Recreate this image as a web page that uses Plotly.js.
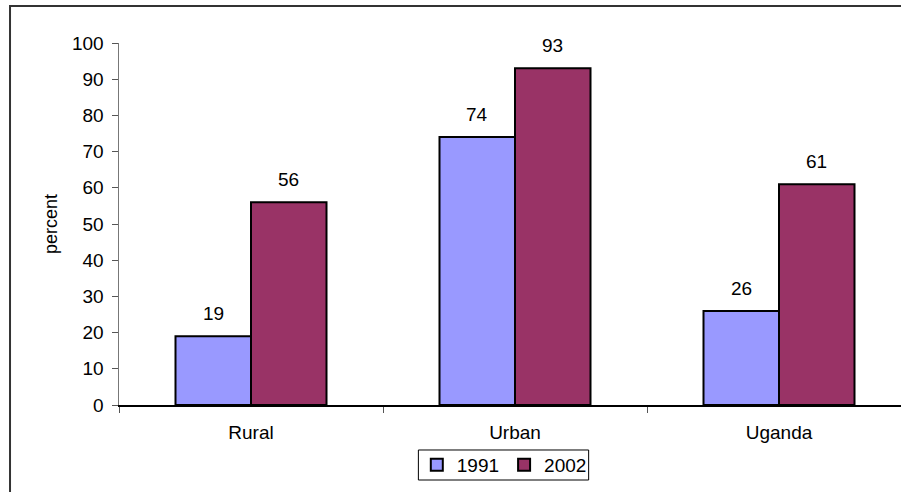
<!DOCTYPE html>
<html>
<head>
<meta charset="utf-8">
<script src="https://cdn.plot.ly/plotly-3.0.1.min.js"></script>
<style>
  html, body { margin: 0; padding: 0; overflow: hidden; background: #fff; }
  #chart { width: 911px; height: 492px; }
</style>
</head>
<body>
<div id="chart"></div>
<script>
// Share of households, by area, in two survey years
const categories = ["Rural", "Urban", "Uganda"];
const years = ["1991", "2002"];
const values1991 = [19, 74, 26];
const values2002 = [56, 93, 61];

const fontFamily = "Liberation Sans, Arial, sans-serif";
const series = [
  { name: years[0], vals: values1991, color: "#9999FF", shift: -37.7 },
  { name: years[1], vals: values2002, color: "#993366", shift: 37.7 }
];

const data = series.map(s => ({
  type: "bar",
  name: s.name,
  x: categories,
  y: s.vals,
  marker: { color: s.color, line: { color: "#000", width: 2 } }
}));

// Value labels sit a little above each bar top
const annotations = [];
series.forEach(s => {
  s.vals.forEach((v, i) => {
    annotations.push({
      xref: "x", yref: "y",
      x: categories[i], y: v,
      xshift: s.shift, yshift: 10,
      yanchor: "bottom", xanchor: "center",
      text: String(v),
      showarrow: false,
      font: { family: fontFamily, size: 19, color: "#000" }
    });
  });
});

const layout = {
  width: 911,
  height: 492,
  margin: { l: 119, r: 0, t: 43, b: 87 },
  paper_bgcolor: "#fff",
  plot_bgcolor: "#fff",
  font: { family: fontFamily, size: 19, color: "#000" },
  barmode: "group",
  bargap: 0.428,
  bargroupgap: 0,
  showlegend: true,
  legend: {
    orientation: "h",
    x: 0.4865, xanchor: "center",
    y: -0.113, yanchor: "top",
    borderwidth: 0,
    bgcolor: "rgba(0,0,0,0)",
    font: { family: fontFamily, size: 19, color: "#000" },
    itemwidth: 30,
    tracegroupgap: 0
  },
  xaxis: {
    type: "category",
    showline: true,
    linecolor: "#000",
    linewidth: 1.5,
    ticks: "outside",
    tickson: "boundaries",
    ticklen: 6,
    tickcolor: "#555",
    ticklabelstandoff: 10,
    showgrid: false,
    zeroline: false,
    tickfont: { family: fontFamily, size: 19, color: "#000" }
  },
  yaxis: {
    range: [0, 100],
    dtick: 10,
    showline: true,
    linecolor: "#777",
    linewidth: 1.5,
    ticks: "outside",
    ticklen: 6,
    tickcolor: "#555",
    ticklabelstandoff: 4,
    showgrid: false,
    zeroline: false,
    tickfont: { family: fontFamily, size: 19, color: "#000" },
    title: { text: "percent", font: { family: fontFamily, size: 18, color: "#000" }, standoff: 9 }
  },
  annotations: annotations,
  shapes: [
    // chart frame
    {
      type: "rect",
      xref: "paper", yref: "paper",
      x0: -0.1376, x1: 1.2,
      y0: -0.5, y1: 1.102,
      line: { color: "#333", width: 2 },
      fillcolor: "rgba(0,0,0,0)",
      layer: "below"
    },
    // legend frame
    {
      type: "rect",
      xref: "paper", yref: "paper",
      x0: 0.378, x1: 0.593,
      y0: -0.2072, y1: -0.1243,
      line: { color: "#000", width: 1 },
      fillcolor: "rgba(0,0,0,0)",
      layer: "below"
    }
  ]
};

Plotly.newPlot("chart", data, layout, { displayModeBar: false, staticPlot: true });
</script>
</body>
</html>
